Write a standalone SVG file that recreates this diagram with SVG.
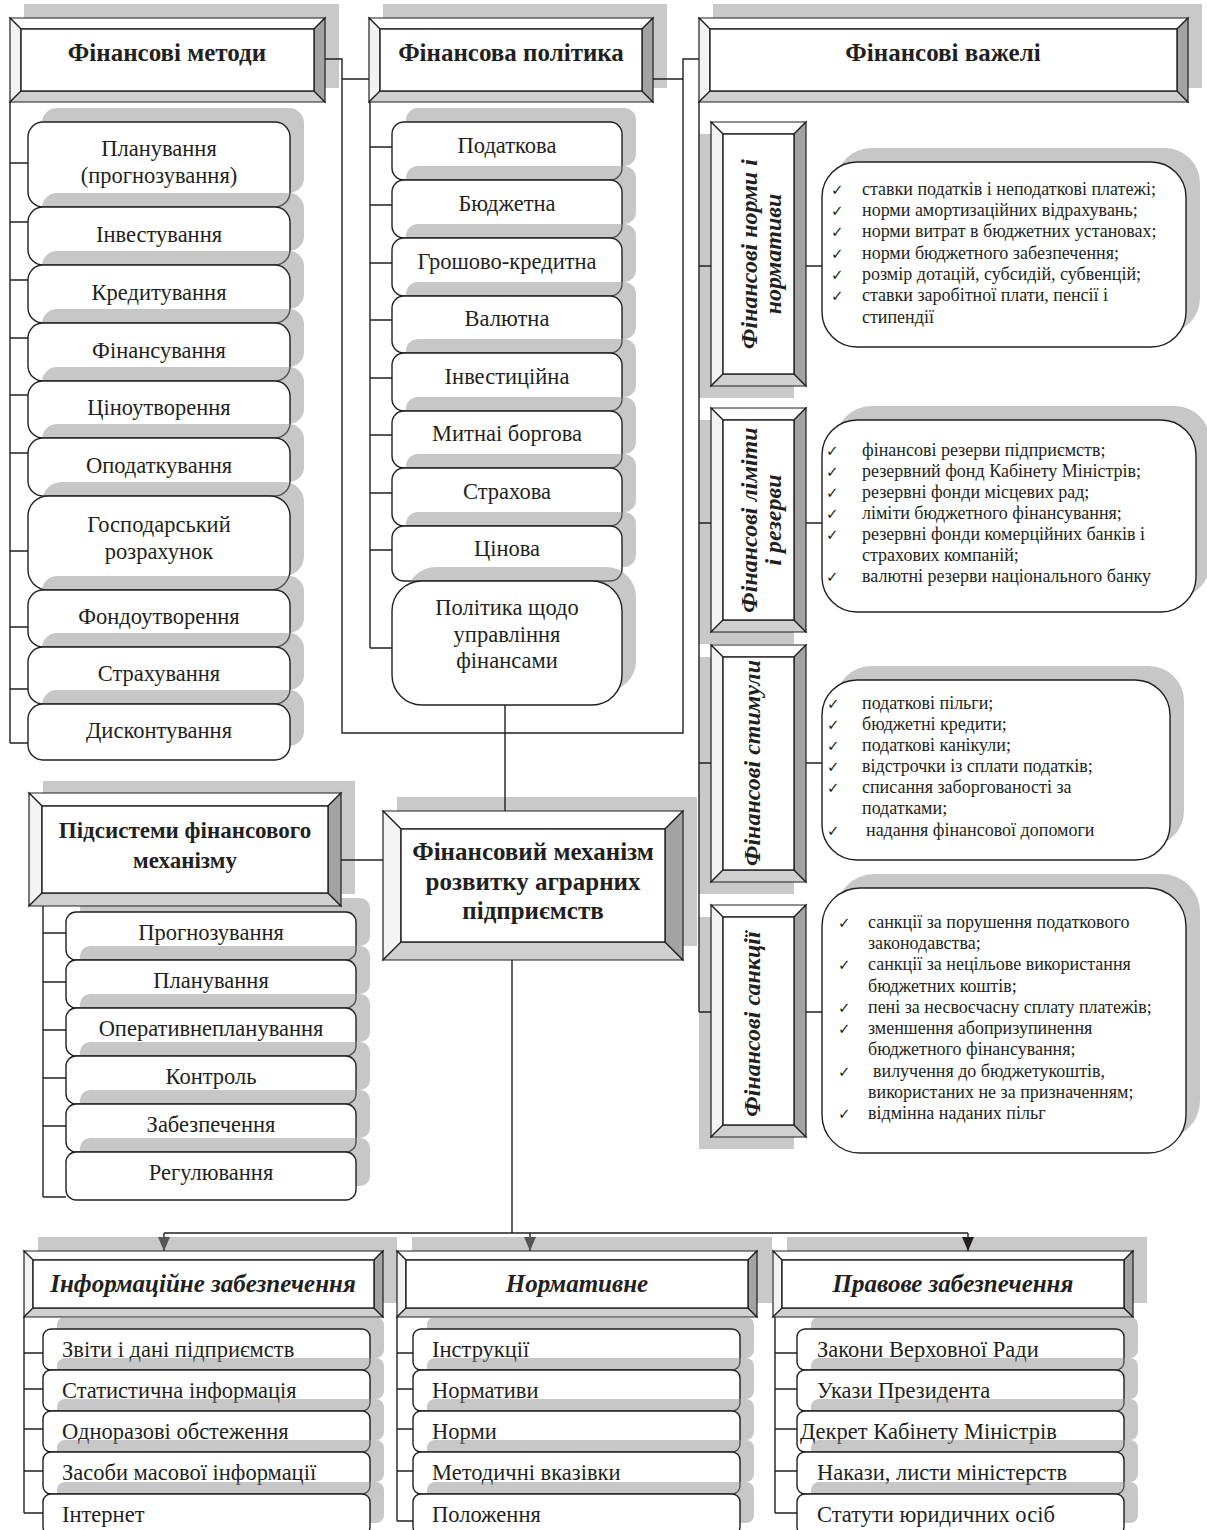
<svg xmlns="http://www.w3.org/2000/svg" width="1207" height="1530" viewBox="0 0 1207 1530">
<style>
.hs{fill:#c9c9c9}
.sh{fill:#8a8a8a;fill-opacity:.48}
.bx{fill:#fff;stroke:#231f20;stroke-width:1.4}
.p{stroke:#231f20;stroke-width:1.2;stroke-linejoin:miter}
.bt{fill:#fdfdfd}
.bl{fill:#f3f3f3}
.bb{fill:#d0d0d0}
.br{fill:#a3a3a3}
.bi{fill:#fff;stroke:#231f20;stroke-width:1.4}
.ln{fill:none;stroke:#231f20;stroke-width:1.4}
text{font-family:"Liberation Serif","Times New Roman",serif;fill:#231f20}
.t{font-size:22.5px}
.c{text-anchor:middle}
.h{font-size:25px;font-weight:bold}
.hi{font-size:25px;font-weight:bold;font-style:italic}
.v{font-size:24px;font-weight:bold;font-style:italic;text-anchor:middle}
.b{font-size:18px}
.ck{font-family:"DejaVu Sans",sans-serif;font-size:15px}
</style>
<defs>
<marker id="ag" viewBox="0 0 14 12" refX="14" refY="6" markerWidth="14" markerHeight="12" markerUnits="userSpaceOnUse" orient="auto"><path d="M0,0 L14,6 L0,12 z" fill="#555"/></marker>
<marker id="ak" viewBox="0 0 14 12" refX="14" refY="6" markerWidth="14" markerHeight="12" markerUnits="userSpaceOnUse" orient="auto"><path d="M0,0 L14,6 L0,12 z" fill="#231f20"/></marker>
</defs>
<rect width="1207" height="1530" fill="#fff"/>

<g id="h-metody">
<rect class="hs" x="24" y="4" width="315" height="84"/>
<polygon class="p bt" points="10,18 325,18 314,29 21,29"/>
<polygon class="p bl" points="10,18 21,29 21,91 10,102"/>
<polygon class="p bb" points="10,102 21,91 314,91 325,102"/>
<polygon class="p br" points="325,18 325,102 314,91 314,29"/>
<rect class="bi" x="21" y="29" width="293" height="62"/>
<text class="h c" x="167" y="61">Фінансові методи</text>
</g>

<g id="h-polityka">
<rect class="hs" x="383" y="4" width="284" height="84"/>
<polygon class="p bt" points="369,18 653,18 642,29 380,29"/>
<polygon class="p bl" points="369,18 380,29 380,91 369,102"/>
<polygon class="p bb" points="369,102 380,91 642,91 653,102"/>
<polygon class="p br" points="653,18 653,102 642,91 642,29"/>
<rect class="bi" x="380" y="29" width="262" height="62"/>
<text class="h c" x="511" y="61">Фінансова політика</text>
</g>

<g id="h-vazheli">
<rect class="hs" x="713" y="4" width="489" height="84"/>
<polygon class="p bt" points="699,18 1188,18 1177,29 710,29"/>
<polygon class="p bl" points="699,18 710,29 710,91 699,102"/>
<polygon class="p bb" points="699,102 710,91 1177,91 1188,102"/>
<polygon class="p br" points="1188,18 1188,102 1177,91 1177,29"/>
<rect class="bi" x="710" y="29" width="467" height="62"/>
<text class="h c" x="943" y="61">Фінансові важелі</text>
</g>

<g id="list-metody">
<rect class="sh" x="42" y="108" width="262" height="85" rx="15"/>
<rect class="bx" x="28" y="122" width="262" height="85" rx="15"/>
<text class="t c" x="159" y="156">Планування</text>
<text class="t c" x="159" y="183">(прогнозування)</text>
<rect class="sh" x="42" y="193" width="262" height="58" rx="15"/>
<rect class="bx" x="28" y="207" width="262" height="58" rx="15"/>
<text class="t c" x="159" y="242">Інвестування</text>
<rect class="sh" x="42" y="251" width="262" height="58" rx="15"/>
<rect class="bx" x="28" y="265" width="262" height="58" rx="15"/>
<text class="t c" x="159" y="300">Кредитування</text>
<rect class="sh" x="42" y="309" width="262" height="58" rx="15"/>
<rect class="bx" x="28" y="323" width="262" height="58" rx="15"/>
<text class="t c" x="159" y="358">Фінансування</text>
<rect class="sh" x="42" y="367" width="262" height="57" rx="15"/>
<rect class="bx" x="28" y="381" width="262" height="57" rx="15"/>
<text class="t c" x="159" y="415">Ціноутворення</text>
<rect class="sh" x="42" y="424" width="262" height="58" rx="15"/>
<rect class="bx" x="28" y="438" width="262" height="58" rx="15"/>
<text class="t c" x="159" y="473">Оподаткування</text>
<rect class="sh" x="42" y="482" width="262" height="94" rx="20"/>
<rect class="bx" x="28" y="496" width="262" height="94" rx="20"/>
<text class="t c" x="159" y="532">Господарський</text>
<text class="t c" x="159" y="559">розрахунок</text>
<rect class="sh" x="42" y="576" width="262" height="57" rx="15"/>
<rect class="bx" x="28" y="590" width="262" height="57" rx="15"/>
<text class="t c" x="159" y="624">Фондоутворення</text>
<rect class="sh" x="42" y="633" width="262" height="57" rx="15"/>
<rect class="bx" x="28" y="647" width="262" height="57" rx="15"/>
<text class="t c" x="159" y="681">Страхування</text>
<rect class="sh" x="42" y="690" width="262" height="56" rx="15"/>
<rect class="bx" x="28" y="704" width="262" height="56" rx="15"/>
<text class="t c" x="159" y="738">Дисконтування</text>
</g>

<g id="list-polityka">
<rect class="sh" x="406" y="108" width="230" height="58" rx="12"/>
<rect class="bx" x="392" y="122" width="230" height="58" rx="12"/>
<text class="t c" x="507" y="153">Податкова</text>
<rect class="sh" x="406" y="166" width="230" height="58" rx="12"/>
<rect class="bx" x="392" y="180" width="230" height="58" rx="12"/>
<text class="t c" x="507" y="211">Бюджетна</text>
<rect class="sh" x="406" y="224" width="230" height="58" rx="12"/>
<rect class="bx" x="392" y="238" width="230" height="58" rx="12"/>
<text class="t c" x="507" y="269">Грошово-кредитна</text>
<rect class="sh" x="406" y="282" width="230" height="57" rx="12"/>
<rect class="bx" x="392" y="296" width="230" height="57" rx="12"/>
<text class="t c" x="507" y="326">Валютна</text>
<rect class="sh" x="406" y="339" width="230" height="58" rx="12"/>
<rect class="bx" x="392" y="353" width="230" height="58" rx="12"/>
<text class="t c" x="507" y="384">Інвестиційна</text>
<rect class="sh" x="406" y="397" width="230" height="57" rx="12"/>
<rect class="bx" x="392" y="411" width="230" height="57" rx="12"/>
<text class="t c" x="507" y="441">Митнаі боргова</text>
<rect class="sh" x="406" y="454" width="230" height="58" rx="12"/>
<rect class="bx" x="392" y="468" width="230" height="58" rx="12"/>
<text class="t c" x="507" y="499">Страхова</text>
<rect class="sh" x="406" y="512" width="230" height="55" rx="12"/>
<rect class="bx" x="392" y="526" width="230" height="55" rx="12"/>
<text class="t c" x="507" y="556">Цінова</text>
<rect class="sh" x="406" y="567" width="230" height="124" rx="30"/>
<rect class="bx" x="392" y="581" width="230" height="124" rx="30"/>
<text class="t c" x="507" y="615">Політика щодо</text>
<text class="t c" x="507" y="642">управління</text>
<text class="t c" x="507" y="668">фінансами</text>
</g>

<g id="v-normy">
<rect class="hs" x="699" y="134" width="95" height="264"/>
<polygon class="p bt" points="711,122 806,122 794,134 723,134"/>
<polygon class="p bl" points="711,122 723,134 723,374 711,386"/>
<polygon class="p bb" points="711,386 723,374 794,374 806,386"/>
<polygon class="p br" points="806,122 806,386 794,374 794,134"/>
<rect class="bi" x="723" y="134" width="71" height="240"/>
<text class="v" transform="translate(757,254) rotate(-90)">Фінансові норми і</text>
<text class="v" transform="translate(781,254) rotate(-90)">нормативи</text>
</g>
<g id="r-normy">
<rect class="sh" x="836" y="148" width="364" height="185" rx="35"/>
<rect class="bx" x="822" y="162" width="364" height="185" rx="35"/>
<text class="ck" x="831" y="195">✓</text><text class="b" x="862" y="195">ставки податків і неподаткові платежі;</text>
<text class="ck" x="831" y="216">✓</text><text class="b" x="862" y="216">норми амортизаційних відрахувань;</text>
<text class="ck" x="831" y="237">✓</text><text class="b" x="862" y="237">норми витрат в бюджетних установах;</text>
<text class="ck" x="831" y="259">✓</text><text class="b" x="862" y="259">норми бюджетного забезпечення;</text>
<text class="ck" x="831" y="280">✓</text><text class="b" x="862" y="280">розмір дотацій, субсидій, субвенцій;</text>
<text class="ck" x="831" y="301">✓</text><text class="b" x="862" y="301">ставки заробітної плати, пенсії і</text>
<text class="b" x="862" y="323">стипендії</text>
</g>

<g id="v-limity">
<rect class="hs" x="699" y="420" width="95" height="224"/>
<polygon class="p bt" points="711,408 806,408 794,420 723,420"/>
<polygon class="p bl" points="711,408 723,420 723,620 711,632"/>
<polygon class="p bb" points="711,632 723,620 794,620 806,632"/>
<polygon class="p br" points="806,408 806,632 794,620 794,420"/>
<rect class="bi" x="723" y="420" width="71" height="200"/>
<text class="v" transform="translate(757,520) rotate(-90)">Фінансові ліміти</text>
<text class="v" transform="translate(781,520) rotate(-90)">і резерви</text>
</g>
<g id="r-limity">
<rect class="sh" x="836" y="406" width="374" height="192" rx="35"/>
<rect class="bx" x="822" y="420" width="374" height="192" rx="35"/>
<text class="ck" x="826" y="456">✓</text><text class="b" x="862" y="456">фінансові резерви підприємств;</text>
<text class="ck" x="826" y="477">✓</text><text class="b" x="862" y="477">резервний фонд Кабінету Міністрів;</text>
<text class="ck" x="826" y="498">✓</text><text class="b" x="862" y="498">резервні фонди місцевих рад;</text>
<text class="ck" x="826" y="519">✓</text><text class="b" x="862" y="519">ліміти бюджетного фінансування;</text>
<text class="ck" x="826" y="540">✓</text><text class="b" x="862" y="540">резервні фонди комерційних банків і</text>
<text class="b" x="862" y="561">страхових компаній;</text>
<text class="ck" x="826" y="582">✓</text><text class="b" x="862" y="582">валютні резерви національного банку</text>
</g>

<g id="v-stymuly">
<rect class="hs" x="699" y="657" width="95" height="237"/>
<polygon class="p bt" points="711,645 806,645 794,657 723,657"/>
<polygon class="p bl" points="711,645 723,657 723,870 711,882"/>
<polygon class="p bb" points="711,882 723,870 794,870 806,882"/>
<polygon class="p br" points="806,645 806,882 794,870 794,657"/>
<rect class="bi" x="723" y="657" width="71" height="213"/>
<text class="v" transform="translate(760,763) rotate(-90)">Фінансові стимули</text>
</g>
<g id="r-stymuly">
<rect class="sh" x="836" y="666" width="348" height="180" rx="35"/>
<rect class="bx" x="822" y="680" width="348" height="180" rx="35"/>
<text class="ck" x="827" y="709">✓</text><text class="b" x="862" y="709">податкові пільги;</text>
<text class="ck" x="827" y="730">✓</text><text class="b" x="862" y="730">бюджетні кредити;</text>
<text class="ck" x="827" y="751">✓</text><text class="b" x="862" y="751">податкові канікули;</text>
<text class="ck" x="827" y="772">✓</text><text class="b" x="862" y="772">відстрочки із сплати податків;</text>
<text class="ck" x="827" y="793">✓</text><text class="b" x="862" y="793">списання заборгованості за</text>
<text class="b" x="862" y="814">податками;</text>
<text class="ck" x="827" y="836">✓</text><text class="b" x="866" y="836">надання фінансової допомоги</text>
</g>

<g id="v-sanktsii">
<rect class="hs" x="699" y="917" width="95" height="232"/>
<polygon class="p bt" points="711,905 806,905 794,917 723,917"/>
<polygon class="p bl" points="711,905 723,917 723,1125 711,1137"/>
<polygon class="p bb" points="711,1137 723,1125 794,1125 806,1137"/>
<polygon class="p br" points="806,905 806,1137 794,1125 794,917"/>
<rect class="bi" x="723" y="917" width="71" height="208"/>
<text class="v" transform="translate(760,1024) rotate(-90)">Фінансові санкції</text>
</g>
<g id="r-sanktsii">
<rect class="sh" x="836" y="874" width="364" height="265" rx="38"/>
<rect class="bx" x="822" y="888" width="364" height="265" rx="38"/>
<text class="ck" x="838" y="928">✓</text><text class="b" x="868" y="928">санкції за порушення податкового</text>
<text class="b" x="868" y="949">законодавства;</text>
<text class="ck" x="838" y="970">✓</text><text class="b" x="868" y="970">санкції за нецільове використання</text>
<text class="b" x="868" y="992">бюджетних коштів;</text>
<text class="ck" x="838" y="1013">✓</text><text class="b" x="868" y="1013">пені за несвоєчасну сплату платежів;</text>
<text class="ck" x="838" y="1034">✓</text><text class="b" x="868" y="1034">зменшення абопризупинення</text>
<text class="b" x="868" y="1055">бюджетного фінансування;</text>
<text class="ck" x="838" y="1077">✓</text><text class="b" x="873" y="1077">вилучення до бюджетукоштів,</text>
<text class="b" x="868" y="1098">використаних не за призначенням;</text>
<text class="ck" x="838" y="1119">✓</text><text class="b" x="868" y="1119">відмінна наданих пільг</text>
</g>

<g id="central">
<rect class="hs" x="397" y="797" width="300" height="149"/>
<polygon class="p bt" points="383,811 683,811 665,829 401,829"/>
<polygon class="p bl" points="383,811 401,829 401,942 383,960"/>
<polygon class="p bb" points="383,960 401,942 665,942 683,960"/>
<polygon class="p br" points="683,811 683,960 665,942 665,829"/>
<rect class="bi" x="401" y="829" width="264" height="113"/>
<text class="h c" x="533" y="860">Фінансовий механізм</text>
<text class="h c" x="533" y="890">розвитку аграрних</text>
<text class="h c" x="533" y="919">підприємств</text>
</g>

<g id="pidsystemy-shadow">
<rect class="hs" x="43" y="781" width="312" height="113"/>
</g>
<g id="list-pidsystemy">
<rect class="sh" x="80" y="898" width="290" height="48" rx="10"/>
<rect class="bx" x="66" y="912" width="290" height="48" rx="10"/>
<text class="t c" x="211" y="940">Прогнозування</text>
<rect class="sh" x="80" y="946" width="290" height="48" rx="10"/>
<rect class="bx" x="66" y="960" width="290" height="48" rx="10"/>
<text class="t c" x="211" y="988">Планування</text>
<rect class="sh" x="80" y="994" width="290" height="48" rx="10"/>
<rect class="bx" x="66" y="1008" width="290" height="48" rx="10"/>
<text class="t c" x="211" y="1036">Оперативнепланування</text>
<rect class="sh" x="80" y="1042" width="290" height="48" rx="10"/>
<rect class="bx" x="66" y="1056" width="290" height="48" rx="10"/>
<text class="t c" x="211" y="1084">Контроль</text>
<rect class="sh" x="80" y="1090" width="290" height="48" rx="10"/>
<rect class="bx" x="66" y="1104" width="290" height="48" rx="10"/>
<text class="t c" x="211" y="1132">Забезпечення</text>
<rect class="sh" x="80" y="1138" width="290" height="48" rx="10"/>
<rect class="bx" x="66" y="1152" width="290" height="48" rx="10"/>
<text class="t c" x="211" y="1180">Регулювання</text>
</g>
<g id="pidsystemy">
<polygon class="p bt" points="29,793 341,793 328,806 42,806"/>
<polygon class="p bl" points="29,793 42,806 42,893 29,906"/>
<polygon class="p bb" points="29,906 42,893 328,893 341,906"/>
<polygon class="p br" points="341,793 341,906 328,893 328,806"/>
<rect class="bi" x="42" y="806" width="286" height="87"/>
<text class="h c" x="185" y="838" style="font-size:23px">Підсистеми фінансового</text>
<text class="h c" x="185" y="868" style="font-size:23px">механізму</text>
</g>

<g id="b-info">
<rect class="hs" x="38" y="1237" width="359" height="66"/>
<polygon class="p bt" points="24,1251 383,1251 374,1260 33,1260"/>
<polygon class="p bl" points="24,1251 33,1260 33,1308 24,1317"/>
<polygon class="p bb" points="24,1317 33,1308 374,1308 383,1317"/>
<polygon class="p br" points="383,1251 383,1317 374,1308 374,1260"/>
<rect class="bi" x="33" y="1260" width="341" height="48"/>
<text class="hi c" x="203" y="1292">Інформаційне забезпечення</text>
</g>
<g id="b-norm">
<rect class="hs" x="412" y="1237" width="360" height="66"/>
<polygon class="p bt" points="397,1251 757,1251 748,1260 406,1260"/>
<polygon class="p bl" points="397,1251 406,1260 406,1308 397,1317"/>
<polygon class="p bb" points="397,1317 406,1308 748,1308 757,1317"/>
<polygon class="p br" points="757,1251 757,1317 748,1308 748,1260"/>
<rect class="bi" x="406" y="1260" width="342" height="48"/>
<text class="hi c" x="577" y="1292">Нормативне</text>
</g>
<g id="b-pravo">
<rect class="hs" x="787" y="1237" width="360" height="66"/>
<polygon class="p bt" points="773,1251 1133,1251 1124,1260 782,1260"/>
<polygon class="p bl" points="773,1251 782,1260 782,1308 773,1317"/>
<polygon class="p bb" points="773,1317 782,1308 1124,1308 1133,1317"/>
<polygon class="p br" points="1133,1251 1133,1317 1124,1308 1124,1260"/>
<rect class="bi" x="782" y="1260" width="342" height="48"/>
<text class="hi c" x="953" y="1292">Правове забезпечення</text>
</g>

<g id="list-info">
<rect class="sh" x="57" y="1317" width="327" height="41" rx="8"/>
<rect class="bx" x="43" y="1329" width="327" height="41" rx="8"/>
<text class="t" x="62" y="1357">Звіти і дані підприємств</text>
<rect class="sh" x="57" y="1358" width="327" height="41" rx="8"/>
<rect class="bx" x="43" y="1370" width="327" height="41" rx="8"/>
<text class="t" x="62" y="1398">Статистична інформація</text>
<rect class="sh" x="57" y="1399" width="327" height="41" rx="8"/>
<rect class="bx" x="43" y="1411" width="327" height="41" rx="8"/>
<text class="t" x="62" y="1439">Одноразові обстеження</text>
<rect class="sh" x="57" y="1440" width="327" height="42" rx="8"/>
<rect class="bx" x="43" y="1452" width="327" height="42" rx="8"/>
<text class="t" x="62" y="1480">Засоби масової інформації</text>
<rect class="sh" x="57" y="1482" width="327" height="41" rx="8"/>
<rect class="bx" x="43" y="1494" width="327" height="41" rx="8"/>
<text class="t" x="62" y="1522">Інтернет</text>
</g>
<g id="list-norm">
<rect class="sh" x="427" y="1317" width="327" height="41" rx="8"/>
<rect class="bx" x="413" y="1329" width="327" height="41" rx="8"/>
<text class="t" x="432" y="1357">Інструкції</text>
<rect class="sh" x="427" y="1358" width="327" height="41" rx="8"/>
<rect class="bx" x="413" y="1370" width="327" height="41" rx="8"/>
<text class="t" x="432" y="1398">Нормативи</text>
<rect class="sh" x="427" y="1399" width="327" height="41" rx="8"/>
<rect class="bx" x="413" y="1411" width="327" height="41" rx="8"/>
<text class="t" x="432" y="1439">Норми</text>
<rect class="sh" x="427" y="1440" width="327" height="42" rx="8"/>
<rect class="bx" x="413" y="1452" width="327" height="42" rx="8"/>
<text class="t" x="432" y="1480">Методичні вказівки</text>
<rect class="sh" x="427" y="1482" width="327" height="41" rx="8"/>
<rect class="bx" x="413" y="1494" width="327" height="41" rx="8"/>
<text class="t" x="432" y="1522">Положення</text>
</g>
<g id="list-pravo">
<rect class="sh" x="811" y="1317" width="327" height="41" rx="8"/>
<rect class="bx" x="797" y="1329" width="327" height="41" rx="8"/>
<text class="t" x="817" y="1357">Закони Верховної Ради</text>
<rect class="sh" x="811" y="1358" width="327" height="41" rx="8"/>
<rect class="bx" x="797" y="1370" width="327" height="41" rx="8"/>
<text class="t" x="817" y="1398">Укази Президента</text>
<rect class="sh" x="811" y="1399" width="327" height="41" rx="8"/>
<rect class="bx" x="797" y="1411" width="327" height="41" rx="8"/>
<text class="t" x="800" y="1439">Декрет Кабінету Міністрів</text>
<rect class="sh" x="811" y="1440" width="327" height="42" rx="8"/>
<rect class="bx" x="797" y="1452" width="327" height="42" rx="8"/>
<text class="t" x="817" y="1480">Накази, листи міністерств</text>
<rect class="sh" x="811" y="1482" width="327" height="41" rx="8"/>
<rect class="bx" x="797" y="1494" width="327" height="41" rx="8"/>
<text class="t" x="817" y="1522">Статути юридичних осіб</text>
</g>

<g id="connectors" class="ln">
<path class="ln" d="M325,59 H342 V733 H683 V59 H699 M342,79 H369 M653,79 H683"/>
<path class="ln" d="M505,705 V811"/>
<path class="ln" d="M10,102 V743 M10,163 H28 M10,222 H28 M10,280 H28 M10,338 H28 M10,395 H28 M10,453 H28 M10,551 H28 M10,627 H28 M10,689 H28 M10,743 H28"/>
<path class="ln" d="M370,102 V648 M370,147 H392 M370,205 H392 M370,263 H392 M370,320 H392 M370,378 H392 M370,435 H392 M370,493 H392 M370,550 H392 M370,648 H392"/>
<path class="ln" d="M699,102 V1012 M699,266 H711 M806,266 H822 M699,523 H711 M806,523 H822 M699,763 H711 M806,763 H822 M699,1012 H711 M806,1012 H822"/>
<path class="ln" d="M341,860 H383"/>
<path class="ln" d="M43,906 V1197 M43,933 H66 M43,982 H66 M43,1030 H66 M43,1078 H66 M43,1126 H66 M43,1197 H66"/>
<path class="ln" d="M512,960 V1233 M164,1233 H968"/>
<path class="ln" d="M164,1233 V1251" marker-end="url(#ag)"/>
<path class="ln" d="M530,1233 V1251" marker-end="url(#ag)"/>
<path class="ln" d="M968,1233 V1251" marker-end="url(#ak)"/>
<path class="ln" d="M24,1317 V1513 M24,1353 H43 M24,1389 H43 M24,1429 H43 M24,1471 H43 M24,1513 H43"/>
<path class="ln" d="M397,1317 V1521 M397,1353 H413 M397,1389 H413 M397,1429 H413 M397,1471 H413 M397,1521 H413"/>
<path class="ln" d="M775,1317 V1513 M775,1353 H797 M775,1389 H797 M775,1429 H797 M775,1471 H797 M775,1513 H797"/>
</g>
</svg>
